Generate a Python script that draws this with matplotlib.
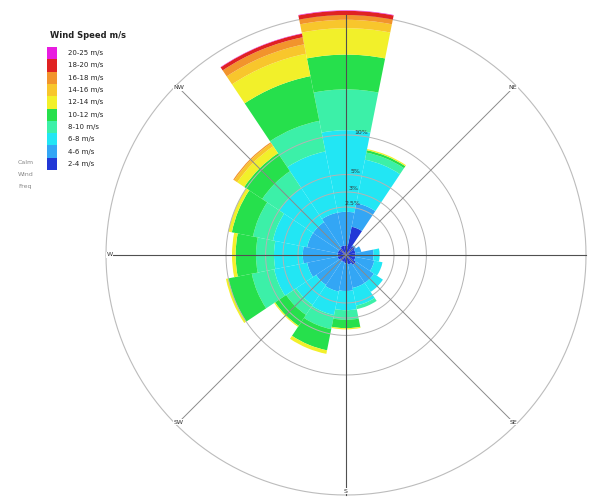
import numpy as np
import matplotlib.pyplot as plt
from matplotlib.patches import Rectangle

# ---------------- data (frequency %, per direction, per speed bin) ----------------
directions = ['N', 'NNE', 'NE', 'ENE', 'E', 'ESE', 'SE', 'SSE',
              'S', 'SSW', 'SW', 'WSW', 'W', 'WNW', 'NW', 'NNW']
speed_bins = ['2-4 m/s', '4-6 m/s', '6-8 m/s', '8-10 m/s', '10-12 m/s',
              '12-14 m/s', '14-16 m/s', '16-18 m/s', '18-20 m/s', '20-25 m/s']

# one list per speed bin, one value per direction (N .. NNW)
f_2_4   = [0.8, 2.4, 0.9, 0.8, 0.8, 0.8, 1.0, 0.8, 0.7, 0.6, 0.6, 0.7, 0.7, 0.7, 0.7, 0.8]
f_4_6   = [2.8, 2.0, 0.1, 0.5, 1.5, 1.6, 1.8, 2.0, 2.3, 2.5, 2.4, 2.6, 2.9, 2.6, 2.6, 2.8]
f_6_8   = [6.8, 3.7, 0.0, 0.0, 0.5, 0.7, 0.9, 1.5, 1.6, 2.0, 2.0, 2.8, 2.4, 2.9, 3.4, 5.2]
f_8_10  = [3.4, 0.6, 0.0, 0.0, 0.0, 0.0, 0.0, 0.3, 0.8, 1.2, 1.0, 1.9, 1.5, 1.7, 1.7, 2.6]
f_10_12 = [2.9, 0.2, 0.0, 0.0, 0.0, 0.0, 0.0, 0.0, 0.7, 1.8, 1.1, 2.0, 1.7, 1.8, 1.8, 3.8]
f_12_14 = [2.2, 0.1, 0.0, 0.0, 0.0, 0.0, 0.0, 0.0, 0.1, 0.3, 0.1, 0.2, 0.3, 0.3, 0.7, 1.9]
f_14_16 = [0.7, 0.0, 0.0, 0.0, 0.0, 0.0, 0.0, 0.0, 0.0, 0.0, 0.0, 0.0, 0.0, 0.0, 0.3, 0.8]
f_16_18 = [0.4, 0.0, 0.0, 0.0, 0.0, 0.0, 0.0, 0.0, 0.0, 0.0, 0.0, 0.0, 0.0, 0.0, 0.1, 0.6]
f_18_20 = [0.35, 0.0, 0.0, 0.0, 0.0, 0.0, 0.0, 0.0, 0.0, 0.0, 0.0, 0.0, 0.0, 0.0, 0.0, 0.3]
f_20_25 = [0.04, 0.0, 0.0, 0.0, 0.0, 0.0, 0.0, 0.0, 0.0, 0.0, 0.0, 0.0, 0.0, 0.0, 0.0, 0.03]

freqs = [f_2_4, f_4_6, f_6_8, f_8_10, f_10_12, f_12_14, f_14_16, f_16_18, f_18_20, f_20_25]

colors = ['#2238d6', '#33a6f5', '#22e6f4', '#3cf0a8', '#26e04c',
          '#f2f02a', '#f8c62c', '#f2942c', '#e02222', '#e81ce0']

ring_values = [4, 5.25, 6.7, 10]
ring_labels = ['2.5%', '3%', '5%', '10%']
r_max = 20      # outer circle
r_lim = 20.6    # axis limit, a bit beyond the outer circle

# ---------------- figure ----------------
W, H = 590.0, 503.0
cx, cy = 346, 255                 # centre of the rose, pixels from top-left
rad = 240 * r_lim / r_max         # axes radius in pixels

fig = plt.figure(figsize=(5.9, 5.03), dpi=100)
ax = fig.add_axes([(cx - rad) / W, ((H - cy) - rad) / H, 2 * rad / W, 2 * rad / H],
                  projection='polar')
ax.set_theta_zero_location('N')
ax.set_theta_direction(-1)
ax.set_ylim(0, r_lim)
ax.axis('off')

theta = np.deg2rad(np.arange(16) * 22.5)
width = np.deg2rad(22.5)
bottom = np.zeros(16)
for f, c in zip(freqs, colors):
    f = np.array(f)
    ax.bar(theta, f, width=width, bottom=bottom, color=c, edgecolor='none',
           linewidth=0, zorder=2)
    bottom = bottom + f

# rings
tt = np.linspace(0, 2 * np.pi, 361)
for rv in ring_values:
    ax.plot(tt, np.full_like(tt, rv), color='#b4b4b4', lw=0.7, zorder=3)
ax.plot(tt, np.full_like(tt, r_max), color='#bcbcbc', lw=0.8, zorder=1)

# spokes
for a in [0, 90, 180, 270]:
    ax.plot([np.deg2rad(a), np.deg2rad(a)], [0, r_max], color='#505050', lw=0.8, zorder=4)
for a in [45, 135, 225, 315]:
    ax.plot([np.deg2rad(a), np.deg2rad(a)], [0, r_max], color='#8a8a8a', lw=0.7, zorder=4)

# ring labels
for rv, lab in zip(ring_values, ring_labels):
    ax.text(np.deg2rad(7), rv + 0.1, lab, fontsize=4.5, color='#333333',
            ha='center', va='bottom', zorder=5)

# compass labels
for a, lab in [(315, 'NW'), (45, 'NE'), (225, 'SW'), (135, 'SE'), (270, 'W'), (180, 'S')]:
    ax.text(np.deg2rad(a), r_max * 0.985, lab, fontsize=4.5, color='#333333',
            ha='center', va='center', zorder=5,
            bbox=dict(facecolor='white', edgecolor='none', pad=0.3))

# ---------------- legend ----------------
fig.text(50 / W, 1 - 35 / H, 'Wind Speed m/s', fontsize=6, fontweight='bold',
         ha='left', va='center', color='#222222')
top = 47
step = 12.3
for i, (lab, c) in enumerate(zip(speed_bins[::-1], colors[::-1])):
    y = top + i * step
    fig.patches.append(Rectangle((47 / W, 1 - (y + step) / H), 10 / W, step / H,
                                 transform=fig.transFigure, facecolor=c,
                                 edgecolor='none'))
    fig.text(68 / W, 1 - (y + step / 2) / H, lab, fontsize=5, ha='left',
             va='center', color='#222222')

for i, lab in enumerate(['Calm', 'Wind', 'Freq']):
    fig.text(18 / W, 1 - (162 + i * 12) / H, lab, fontsize=4.5, ha='left',
             va='center', color='#888888')

fig.savefig('out.png', dpi=100)
